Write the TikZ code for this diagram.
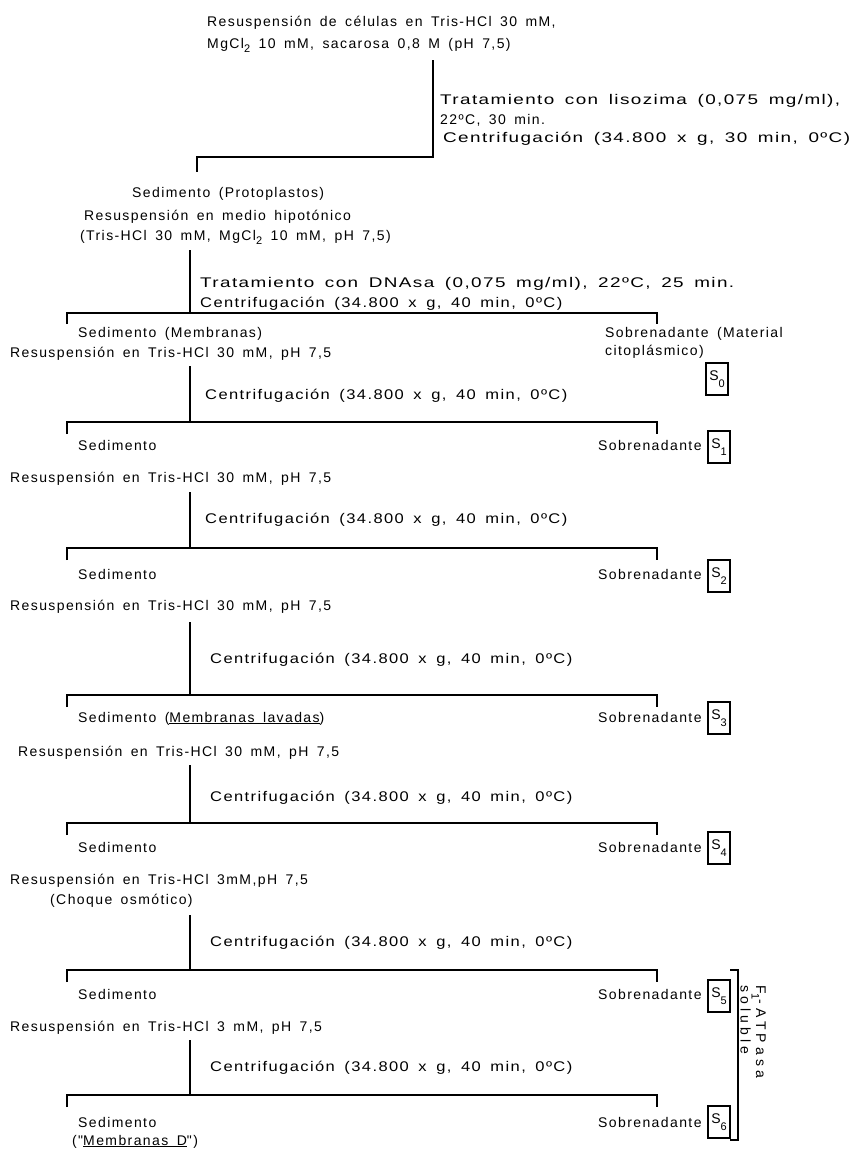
\documentclass[tikz,border=0pt]{standalone}
\usepackage{fontspec}
\usepackage{tikz}
\usetikzlibrary{positioning}
\newfontfamily\typefont[LetterSpace=10,WordSpace=1.6]{Liberation Sans}
\newfontfamily\centfont[LetterSpace=10,WordSpace=1.6,FakeStretch=1.18]{Liberation Sans}
\newfontfamily\tratfont[LetterSpace=10,WordSpace=1.6,FakeStretch=1.35]{Liberation Sans}
\newfontfamily\sidefont[LetterSpace=30]{Liberation Sans}
\newcommand{\lowsub}[1]{\raisebox{-0.6ex}{\fontsize{11}{11}\selectfont #1}}

\begin{document}
\begin{tikzpicture}[x=1pt, y=-1pt,
    lbl/.style={anchor=base west, inner sep=0pt, font=\typefont\fontsize{14}{16}\selectfont},
    cent/.style={lbl, font=\centfont\fontsize{14}{16}\selectfont},
    trat/.style={lbl, font=\tratfont\fontsize{14}{16}\selectfont},
    tree/.style={line width=1.6pt},
    sbox/.style={draw, line width=1.3pt, minimum width=22pt, minimum height=32pt,
                 inner sep=0pt, font=\typefont\fontsize{14}{16}\selectfont}
  ]
    \useasboundingbox (0,0) rectangle (866,1149);
    % paso 1
    \node[lbl] (res1a) at (207,26) {Resuspensión de células en Tris-HCl 30 mM,};
    \node[lbl] (res1b) at (207,48) {MgCl\lowsub{2} 10 mM, sacarosa 0,8 M (pH 7,5)};
    \coordinate (v1) at (433,60);
    \coordinate (j1) at (433,157);
    \coordinate (l1) at (197,157);
    \coordinate (l1e) at (197,172);
    \draw[tree] (v1) -- (j1) -- (l1) -- (l1e);
    \node[trat] (trat1a) at (440,104) {Tratamiento con lisozima (0,075 mg/ml),};
    \node[lbl] (trat1b) at (440,124) {22ºC, 30 min.};
    \node[trat] (cen1) at (443,142) {Centrifugación (34.800 x g, 30 min, 0ºC)};
    \node[lbl] (sed1) at (132,197) {Sedimento (Protoplastos)};
    % paso 2
    \node[lbl] (res2a) at (84,220) {Resuspensión en medio hipotónico};
    \node[lbl] (res2b) at (80,240) {(Tris-HCl 30 mM, MgCl\lowsub{2} 10 mM, pH 7,5)};
    \coordinate (v2) at (190,250);
    \coordinate (j2) at (190,313);
    \coordinate (l2) at (67,313);
    \coordinate (l2e) at (67,324);
    \coordinate (r2) at (657,313);
    \coordinate (r2e) at (657,324);
    \draw[tree] (v2) -- (j2);
    \draw[tree] (l2e) -- (l2) -- (r2) -- (r2e);
    \node[trat] (trat2) at (200,287) {Tratamiento con DNAsa (0,075 mg/ml), 22ºC, 25 min.};
    \node[cent] (cen2) at (200,307) {Centrifugación (34.800 x g, 40 min, 0ºC)};
    \node[lbl] (sed2) at (78,337) {Sedimento (Membranas)};
    \node[lbl] (sob2a) at (605,337) {Sobrenadante (Material};
    \node[lbl] (sob2b) at (605,355) {citoplásmico)};
    \node[sbox] (s0) at (717,379) {\raisebox{0.4ex}{S}\lowsub{0}};
    % paso 3
    \node[lbl] (res3) at (10,357) {Resuspensión en Tris-HCl 30 mM, pH 7,5};
    \coordinate (v3) at (190,366);
    \coordinate (j3) at (190,422);
    \coordinate (l3) at (67,422);
    \coordinate (l3e) at (67,434);
    \coordinate (r3) at (657,422);
    \coordinate (r3e) at (657,434);
    \draw[tree] (v3) -- (j3);
    \draw[tree] (l3e) -- (l3) -- (r3) -- (r3e);
    \node[cent] (cen3) at (205,399) {Centrifugación (34.800 x g, 40 min, 0ºC)};
    \node[lbl] (sed3) at (78,450) {Sedimento};
    \node[lbl] (sob3) at (598,450) {Sobrenadante};
    \node[sbox] (s1) at (719,447) {\raisebox{0.4ex}{S}\lowsub{1}};
    % paso 4
    \node[lbl] (res4) at (10,482) {Resuspensión en Tris-HCl 30 mM, pH 7,5};
    \coordinate (v4) at (190,492);
    \coordinate (j4) at (190,548);
    \coordinate (l4) at (67,548);
    \coordinate (l4e) at (67,560);
    \coordinate (r4) at (657,548);
    \coordinate (r4e) at (657,560);
    \draw[tree] (v4) -- (j4);
    \draw[tree] (l4e) -- (l4) -- (r4) -- (r4e);
    \node[cent] (cen4) at (205,523) {Centrifugación (34.800 x g, 40 min, 0ºC)};
    \node[lbl] (sed4) at (78,579) {Sedimento};
    \node[lbl] (sob4) at (598,579) {Sobrenadante};
    \node[sbox] (s2) at (719,576) {\raisebox{0.4ex}{S}\lowsub{2}};
    % paso 5
    \node[lbl] (res5) at (10,610) {Resuspensión en Tris-HCl 30 mM, pH 7,5};
    \coordinate (v5) at (190,622);
    \coordinate (j5) at (190,695);
    \coordinate (l5) at (67,695);
    \coordinate (l5e) at (67,707);
    \coordinate (r5) at (657,695);
    \coordinate (r5e) at (657,707);
    \draw[tree] (v5) -- (j5);
    \draw[tree] (l5e) -- (l5) -- (r5) -- (r5e);
    \node[cent] (cen5) at (210,663) {Centrifugación (34.800 x g, 40 min, 0ºC)};
    \node[lbl] (sed5) at (78,722) {Sedimento (\underline{Membranas lavadas})};
    \node[lbl] (sob5) at (598,722) {Sobrenadante};
    \node[sbox] (s3) at (719,718) {\raisebox{0.4ex}{S}\lowsub{3}};
    % paso 6
    \node[lbl] (res6) at (18,756) {Resuspensión en Tris-HCl 30 mM, pH 7,5};
    \coordinate (v6) at (190,765);
    \coordinate (j6) at (190,823);
    \coordinate (l6) at (67,823);
    \coordinate (l6e) at (67,835);
    \coordinate (r6) at (657,823);
    \coordinate (r6e) at (657,835);
    \draw[tree] (v6) -- (j6);
    \draw[tree] (l6e) -- (l6) -- (r6) -- (r6e);
    \node[cent] (cen6) at (210,801) {Centrifugación (34.800 x g, 40 min, 0ºC)};
    \node[lbl] (sed6) at (78,852) {Sedimento};
    \node[lbl] (sob6) at (598,852) {Sobrenadante};
    \node[sbox] (s4) at (719,848) {\raisebox{0.4ex}{S}\lowsub{4}};
    % paso 7 (choque osmotico)
    \node[lbl] (res7a) at (10,884) {Resuspensión en Tris-HCl 3mM,pH 7,5};
    \node[lbl] (res7b) at (50,904) {(Choque osmótico)};
    \coordinate (v7) at (190,915);
    \coordinate (j7) at (190,970);
    \coordinate (l7) at (67,970);
    \coordinate (l7e) at (67,982);
    \coordinate (r7) at (657,970);
    \coordinate (r7e) at (657,982);
    \draw[tree] (v7) -- (j7);
    \draw[tree] (l7e) -- (l7) -- (r7) -- (r7e);
    \node[cent] (cen7) at (210,946) {Centrifugación (34.800 x g, 40 min, 0ºC)};
    \node[lbl] (sed7) at (78,999) {Sedimento};
    \node[lbl] (sob7) at (598,999) {Sobrenadante};
    \node[sbox] (s5) at (719,996) {\raisebox{0.4ex}{S}\lowsub{5}};
    % paso 8
    \node[lbl] (res8) at (10,1031) {Resuspensión en Tris-HCl 3 mM, pH 7,5};
    \coordinate (v8) at (190,1040);
    \coordinate (j8) at (190,1095);
    \coordinate (l8) at (67,1095);
    \coordinate (l8e) at (67,1107);
    \coordinate (r8) at (657,1095);
    \coordinate (r8e) at (657,1107);
    \draw[tree] (v8) -- (j8);
    \draw[tree] (l8e) -- (l8) -- (r8) -- (r8e);
    \node[cent] (cen8) at (210,1071) {Centrifugación (34.800 x g, 40 min, 0ºC)};
    \node[lbl] (sed8a) at (78,1127) {Sedimento};
    \node[lbl] (sed8b) at (72,1145) {("\underline{Membranas D}")};
    \node[lbl] (sob8) at (598,1127) {Sobrenadante};
    \node[sbox] (s6) at (719,1122) {\raisebox{0.4ex}{S}\lowsub{6}};
    % F1-ATPasa soluble
    \coordinate (bt) at (730,970);
    \coordinate (bb) at (730,1140);
    \draw[tree] (bt) -- ++(8,0) |- (bb);
    \node[rotate=-90, align=left, inner sep=0pt, anchor=north west,
          font=\sidefont\fontsize{14}{13}\selectfont]
      (fatp) at (766,985) {F\lowsub{1}-ATPasa\\soluble};
  \end{tikzpicture}
\end{document}
